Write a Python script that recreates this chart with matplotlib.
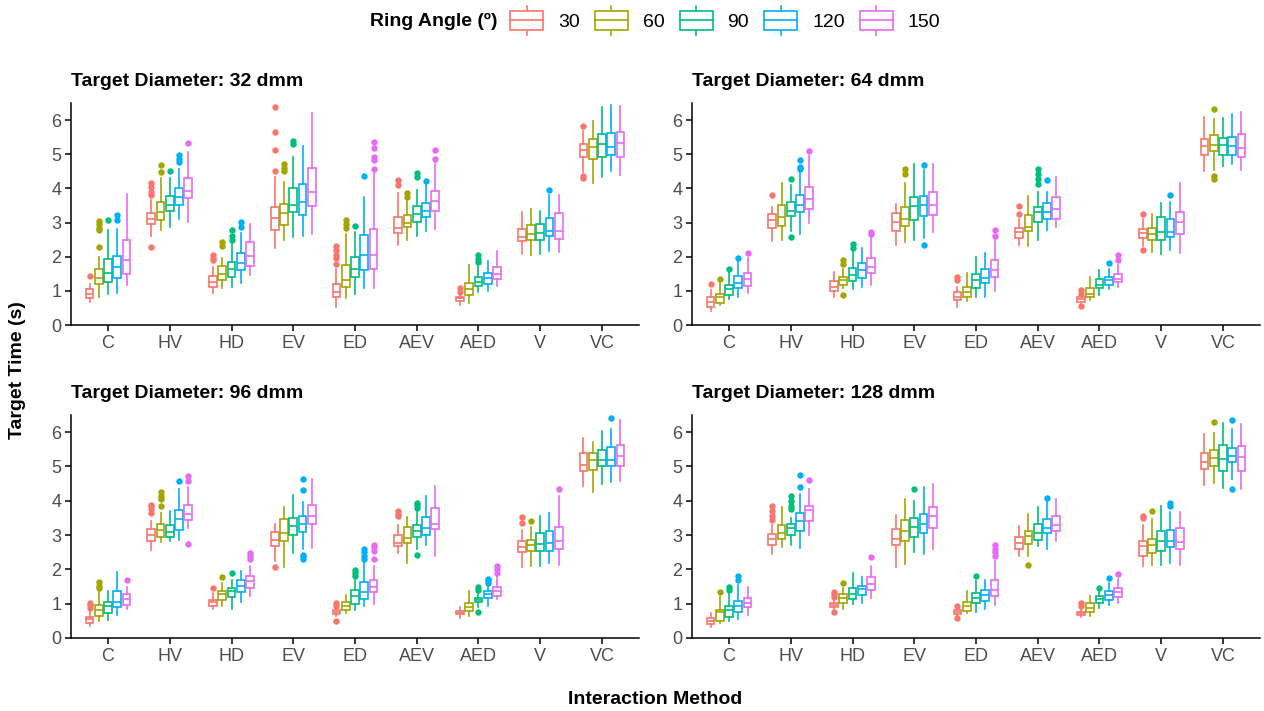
""" Target time by interaction method, ring angle and target diameter """
import matplotlib
matplotlib.use('Agg')
import matplotlib.pyplot as plt
from matplotlib.patches import Rectangle
from matplotlib.lines import Line2D
from matplotlib.legend_handler import HandlerBase

plt.rcParams['font.family'] = ['Liberation Sans', 'DejaVu Sans']

methods = ['C', 'HV', 'HD', 'EV', 'ED', 'AEV', 'AED', 'V', 'VC']
angles = [30, 60, 90, 120, 150]
colors = ['#F8766D', '#A3A500', '#00BF7D', '#00B0F6', '#E76BF3']

# one row per method, one column per ring angle (30, 60, 90, 120, 150)
# ---- 32 dmm
d32_lo = [[0.66, 0.83, 0.92, 0.95, 1.18], [2.60, 2.77, 2.88, 3.11, 3.01],
          [0.95, 1.07, 1.12, 1.24, 1.46], [2.25, 2.50, 2.57, 2.60, 2.67],
          [0.53, 0.78, 0.92, 1.07, 1.07], [2.33, 2.50, 2.60, 2.75, 2.82],
          [0.60, 0.63, 0.97, 0.99, 1.15], [2.09, 2.06, 2.09, 2.18, 2.14],
          [4.47, 4.17, 4.32, 4.50, 4.39]]
d32_q1 = [[0.80, 1.21, 1.26, 1.38, 1.50], [2.96, 3.06, 3.33, 3.50, 3.71],
          [1.10, 1.33, 1.40, 1.62, 1.73], [2.77, 2.93, 3.30, 3.23, 3.47],
          [0.81, 1.12, 1.41, 1.60, 1.65], [2.69, 2.88, 3.01, 3.15, 3.33],
          [0.71, 0.87, 1.14, 1.21, 1.34], [2.45, 2.50, 2.50, 2.62, 2.52],
          [4.92, 4.87, 4.92, 4.97, 4.92]]
d32_med = [[0.90, 1.38, 1.53, 1.69, 1.89], [3.11, 3.30, 3.51, 3.74, 3.93],
           [1.26, 1.50, 1.63, 1.82, 2.02], [3.13, 3.28, 3.50, 3.59, 3.88],
           [0.97, 1.33, 1.65, 2.04, 2.04], [2.83, 2.98, 3.25, 3.33, 3.64],
           [0.78, 1.05, 1.26, 1.38, 1.50], [2.57, 2.67, 2.69, 2.75, 2.75],
           [5.13, 5.22, 5.29, 5.21, 5.34]]
d32_q3 = [[1.04, 1.63, 1.92, 2.03, 2.50], [3.27, 3.61, 3.79, 4.00, 4.29],
          [1.43, 1.72, 1.84, 2.11, 2.43], [3.45, 3.54, 4.00, 4.13, 4.61],
          [1.21, 1.75, 1.99, 2.64, 2.82], [3.16, 3.22, 3.47, 3.56, 3.91],
          [0.83, 1.24, 1.41, 1.52, 1.69], [2.82, 2.93, 2.96, 3.13, 3.27],
          [5.29, 5.44, 5.58, 5.63, 5.66]]
d32_hi = [[1.20, 2.00, 2.77, 2.82, 3.83], [3.65, 4.30, 4.30, 4.56, 5.07],
          [1.70, 1.95, 2.45, 2.70, 2.96], [4.32, 4.19, 4.92, 5.24, 6.21],
          [1.65, 2.67, 2.72, 3.76, 4.45], [3.86, 3.64, 3.95, 4.10, 4.71],
          [0.89, 1.77, 1.73, 1.86, 2.16], [3.30, 3.40, 3.35, 3.81, 3.82],
          [5.68, 5.97, 6.38, 6.43, 6.41]]
d32_out = {
    'C-30': [1.43], 'C-60': [2.28, 2.77, 2.85, 2.95, 3.05], 'C-90': [3.08],
    'C-120': [3.06, 3.22],
    'HV-30': [2.28, 3.8, 3.9, 4.05, 4.15], 'HV-60': [4.47, 4.68],
    'HV-90': [4.51], 'HV-120': [4.76, 4.85, 4.97], 'HV-150': [5.34],
    'HD-30': [1.89, 1.95, 2.04], 'HD-60': [2.30, 2.43],
    'HD-90': [2.5, 2.62, 2.77], 'HD-120': [2.86, 3.03],
    'EV-30': [4.5, 5.13, 5.65, 6.39], 'EV-60': [4.51, 4.6, 4.7],
    'EV-90': [5.29, 5.39],
    'ED-30': [1.8, 1.95, 2.05, 2.2, 2.3], 'ED-60': [2.85, 2.95, 3.06],
    'ED-90': [2.91], 'ED-120': [4.37], 'ED-150': [4.58, 4.83, 4.93, 5.17, 5.36],
    'AEV-30': [4.1, 4.25], 'AEV-60': [3.76, 3.86], 'AEV-90': [4.32, 4.44],
    'AEV-120': [4.22], 'AEV-150': [4.85, 5.12],
    'AED-30': [0.97, 1.09], 'AED-90': [1.85, 1.94, 2.06],
    'V-120': [3.96],
    'VC-30': [4.3, 4.37, 5.84],
}

# ---- 64 dmm
d64_lo = [[0.41, 0.58, 0.76, 0.81, 0.95], [2.46, 2.50, 2.75, 2.67, 2.98],
          [0.83, 1.07, 1.05, 1.12, 1.18], [2.35, 2.43, 2.50, 2.54, 2.72],
          [0.53, 0.70, 0.83, 0.83, 1.00], [2.35, 2.30, 2.48, 2.79, 2.88],
          [0.63, 0.73, 0.89, 1.05, 1.12], [2.30, 2.14, 2.09, 2.20, 2.12],
          [4.51, 4.54, 4.66, 4.71, 4.53]]
d64_q1 = [[0.53, 0.63, 0.87, 1.09, 1.15], [2.84, 2.91, 3.18, 3.30, 3.40],
          [0.99, 1.18, 1.29, 1.39, 1.52], [2.74, 2.89, 3.06, 3.20, 3.23],
          [0.73, 0.83, 1.09, 1.23, 1.41], [2.55, 2.75, 3.03, 3.11, 3.11],
          [0.68, 0.81, 1.07, 1.17, 1.26], [2.55, 2.50, 2.50, 2.57, 2.65],
          [4.99, 5.10, 4.97, 4.99, 4.92]]
d64_med = [[0.68, 0.83, 1.05, 1.23, 1.36], [3.06, 3.17, 3.35, 3.50, 3.69],
           [1.12, 1.33, 1.46, 1.62, 1.70], [3.01, 3.09, 3.47, 3.50, 3.51],
           [0.83, 0.97, 1.31, 1.38, 1.60], [2.72, 2.88, 3.30, 3.32, 3.40],
           [0.76, 0.90, 1.18, 1.31, 1.36], [2.69, 2.67, 2.72, 2.72, 3.01],
           [5.24, 5.27, 5.27, 5.24, 5.19]]
d64_q3 = [[0.81, 0.92, 1.17, 1.43, 1.52], [3.24, 3.50, 3.61, 3.81, 4.05],
          [1.28, 1.41, 1.67, 1.82, 1.96], [3.28, 3.45, 3.76, 3.79, 3.88],
          [0.97, 1.12, 1.48, 1.65, 1.91], [2.83, 3.22, 3.45, 3.56, 3.76],
          [0.81, 1.07, 1.34, 1.41, 1.50], [2.82, 2.83, 3.16, 3.09, 3.30],
          [5.46, 5.55, 5.47, 5.51, 5.58]]
d64_hi = [[1.02, 1.26, 1.55, 1.87, 1.97], [3.45, 4.16, 4.10, 4.49, 4.95],
          [1.55, 1.65, 2.20, 2.25, 2.55], [3.54, 4.17, 4.71, 4.54, 4.71],
          [1.12, 1.52, 1.99, 2.12, 2.55], [3.10, 3.79, 3.88, 3.90, 4.34],
          [0.87, 1.41, 1.60, 1.65, 1.77], [3.10, 3.25, 3.57, 3.60, 4.17],
          [6.10, 6.04, 6.07, 6.19, 6.24]]
d64_out = {
    'C-30': [1.19], 'C-60': [1.36], 'C-90': [1.63], 'C-120': [1.97],
    'C-150': [2.11],
    'HV-30': [3.82], 'HV-90': [2.57, 4.27], 'HV-120': [4.56, 4.64, 4.83],
    'HV-150': [5.10],
    'HD-60': [0.87, 1.78, 1.91], 'HD-90': [2.25, 2.38], 'HD-150': [2.67, 2.72],
    'EV-60': [4.42, 4.56], 'EV-120': [2.33, 4.69],
    'ED-30': [1.31, 1.41], 'ED-150': [2.62, 2.77],
    'AEV-30': [3.25, 3.47], 'AEV-90': [4.13, 4.27, 4.42, 4.56],
    'AEV-120': [4.25],
    'AED-30': [0.55, 0.92, 1.02], 'AED-120': [1.82], 'AED-150': [1.89, 2.04],
    'V-30': [2.20, 3.25], 'V-120': [3.82],
    'VC-60': [4.27, 4.35, 6.31],
}

# ---- 96 dmm
d96_lo = [[0.36, 0.50, 0.53, 0.67, 0.84], [2.56, 2.79, 2.84, 2.87, 3.21],
          [0.84, 0.94, 0.85, 1.06, 1.23], [2.25, 2.07, 2.48, 2.60, 2.62],
          [0.65, 0.72, 0.82, 0.92, 0.99], [2.48, 2.19, 2.60, 2.70, 2.38],
          [0.58, 0.65, 0.90, 0.94, 1.13], [2.07, 2.11, 2.09, 2.19, 2.13],
          [4.43, 4.25, 4.48, 4.55, 4.58]]
d96_q1 = [[0.45, 0.64, 0.74, 0.89, 0.97], [2.82, 2.94, 2.94, 3.16, 3.45],
          [0.94, 1.11, 1.19, 1.33, 1.47], [2.69, 2.82, 3.01, 3.09, 3.31],
          [0.70, 0.82, 0.99, 1.13, 1.33], [2.67, 2.77, 2.95, 3.01, 3.18],
          [0.69, 0.79, 1.04, 1.16, 1.23], [2.50, 2.55, 2.53, 2.53, 2.58],
          [4.87, 4.89, 5.00, 5.00, 5.00]]
d96_med = [[0.55, 0.82, 0.92, 1.06, 1.13], [2.99, 3.14, 3.08, 3.47, 3.62],
           [1.04, 1.28, 1.36, 1.52, 1.65], [2.87, 3.06, 3.26, 3.31, 3.55],
           [0.77, 0.92, 1.21, 1.33, 1.50], [2.77, 2.92, 3.11, 3.21, 3.33],
           [0.74, 0.89, 1.11, 1.28, 1.36], [2.65, 2.70, 2.74, 2.77, 2.84],
           [5.03, 5.19, 5.19, 5.19, 5.31]]
d96_q3 = [[0.62, 0.95, 1.04, 1.36, 1.28], [3.18, 3.33, 3.28, 3.73, 3.89],
          [1.11, 1.36, 1.45, 1.68, 1.81], [3.08, 3.47, 3.50, 3.57, 3.87],
          [0.82, 1.04, 1.39, 1.62, 1.68], [3.01, 3.23, 3.29, 3.52, 3.78],
          [0.79, 1.03, 1.18, 1.36, 1.50], [2.84, 2.87, 3.06, 3.11, 3.23],
          [5.40, 5.40, 5.47, 5.57, 5.62]]
d96_hi = [[0.75, 1.35, 1.36, 1.92, 1.50], [3.40, 3.65, 3.70, 4.33, 4.41],
          [1.30, 1.60, 1.70, 1.96, 2.10], [3.33, 3.82, 4.16, 3.97, 4.64],
          [0.90, 1.26, 1.70, 2.20, 2.10], [3.30, 3.53, 3.75, 4.14, 4.43],
          [0.89, 1.36, 1.30, 1.50, 1.80], [3.15, 3.25, 3.55, 3.63, 4.15],
          [5.82, 5.70, 6.04, 6.10, 6.35]]
d96_out = {
    'C-30': [0.87, 0.95, 1.01], 'C-60': [1.45, 1.52, 1.62], 'C-150': [1.68],
    'HV-30': [3.65, 3.75, 3.85, 3.89], 'HV-60': [3.85, 4.05, 4.15, 4.25],
    'HV-120': [4.58], 'HV-150': [2.74, 4.58, 4.72],
    'HD-30': [1.45], 'HD-60': [1.77], 'HD-90': [1.89],
    'HD-150': [2.30, 2.40, 2.48],
    'EV-30': [2.07], 'EV-120': [2.30, 2.38, 2.43, 4.30, 4.62],
    'ED-30': [0.51, 0.94, 1.03], 'ED-90': [1.80, 1.89, 1.99],
    'ED-120': [2.30, 2.40, 2.50, 2.60], 'ED-150': [2.30, 2.55, 2.65, 2.72],
    'AEV-30': [3.55, 3.62, 3.70], 'AEV-90': [2.43, 3.80, 3.87, 3.94],
    'AED-90': [0.75, 1.40, 1.50], 'AED-120': [1.60, 1.68, 1.73],
    'AED-150': [1.90, 2.00, 2.09],
    'V-30': [3.34, 3.52], 'V-60': [3.42], 'V-150': [4.33],
    'VC-120': [6.41],
}

# ---- 128 dmm
d128_lo = [[0.33, 0.43, 0.51, 0.55, 0.67], [2.46, 2.65, 2.72, 2.62, 3.01],
           [0.85, 0.84, 0.99, 1.01, 1.16], [2.06, 2.17, 2.51, 2.45, 2.60],
           [0.65, 0.72, 0.75, 0.84, 0.97], [2.38, 2.38, 2.67, 2.60, 2.84],
           [0.62, 0.64, 0.87, 0.97, 1.03], [2.09, 2.12, 2.12, 2.20, 2.12],
           [4.45, 4.53, 4.38, 4.64, 4.35]]
d128_q1 = [[0.40, 0.50, 0.62, 0.75, 0.89], [2.72, 2.89, 3.01, 3.11, 3.40],
           [0.90, 1.03, 1.14, 1.26, 1.40], [2.72, 2.84, 2.94, 3.06, 3.21],
           [0.69, 0.79, 1.01, 1.09, 1.21], [2.58, 2.74, 2.87, 3.06, 3.11],
           [0.67, 0.77, 1.03, 1.11, 1.19], [2.38, 2.48, 2.55, 2.65, 2.58],
           [4.92, 5.01, 4.87, 5.14, 4.87]]
d128_med = [[0.50, 0.77, 0.82, 0.94, 1.03], [2.89, 3.06, 3.21, 3.42, 3.72],
            [0.95, 1.18, 1.28, 1.42, 1.58], [2.90, 3.13, 3.24, 3.31, 3.55],
            [0.77, 0.92, 1.16, 1.24, 1.40], [2.77, 2.97, 3.06, 3.21, 3.28],
            [0.72, 0.87, 1.13, 1.26, 1.33], [2.67, 2.70, 2.82, 2.84, 2.80],
            [5.14, 5.24, 5.21, 5.31, 5.29]]
d128_q3 = [[0.58, 0.82, 0.94, 1.09, 1.16], [3.03, 3.28, 3.31, 3.65, 3.86],
           [1.01, 1.28, 1.47, 1.53, 1.78], [3.18, 3.45, 3.50, 3.62, 3.82],
           [0.82, 1.04, 1.31, 1.39, 1.70], [2.95, 3.11, 3.33, 3.47, 3.55],
           [0.77, 1.01, 1.21, 1.36, 1.47], [2.82, 2.90, 3.11, 3.14, 3.21],
           [5.40, 5.48, 5.62, 5.55, 5.60]]
d128_hi = [[0.74, 1.20, 1.30, 1.55, 1.50], [3.30, 3.81, 3.50, 4.20, 4.35],
           [1.10, 1.45, 1.89, 1.78, 2.10], [3.58, 4.04, 4.00, 4.40, 4.50],
           [0.87, 1.36, 1.65, 1.68, 2.25], [3.26, 3.60, 3.82, 3.95, 4.04],
           [0.87, 1.21, 1.35, 1.60, 1.72], [3.30, 3.47, 3.86, 3.68, 3.67],
           [5.94, 5.97, 6.26, 6.10, 6.23]]
d128_out = {
    'C-60': [1.33], 'C-90': [1.40, 1.50], 'C-120': [1.70, 1.80],
    'HV-30': [3.45, 3.55, 3.70, 3.84], 'HV-90': [3.75, 3.85, 4.00, 4.14],
    'HV-120': [4.41, 4.74], 'HV-150': [4.60],
    'HD-30': [0.77, 1.20, 1.27, 1.33], 'HD-60': [1.60], 'HD-150': [2.35],
    'EV-90': [4.33],
    'ED-30': [0.58, 0.92], 'ED-90': [1.82], 'ED-150': [2.40, 2.50, 2.60, 2.72],
    'AEV-60': [2.14], 'AEV-120': [4.09],
    'AED-30': [0.92, 1.01], 'AED-90': [1.45], 'AED-120': [1.75],
    'AED-150': [1.86],
    'V-30': [3.50, 3.55], 'V-60': [3.70], 'V-120': [3.84, 3.94],
    'VC-60': [6.30], 'VC-120': [4.33, 6.35],
}

LW = 1.2


class BoxHandler(HandlerBase):
    # draws the little boxplot glyph used in the legend
    def create_artists(self, legend, orig_handle, xdescent, ydescent,
                       width, height, fontsize, trans):
        c = orig_handle.get_edgecolor()
        x0, y0 = -xdescent, -ydescent
        xm = x0 + width / 2
        box = Rectangle((x0, y0), width, height, facecolor='white',
                        edgecolor=c, lw=LW, transform=trans)
        mid = Line2D([x0, x0 + width], [y0 + height / 2] * 2, color=c,
                     lw=LW, transform=trans)
        top = Line2D([xm, xm], [y0 + height, y0 + height * 1.3], color=c,
                     lw=LW, transform=trans)
        bot = Line2D([xm, xm], [y0 - height * 0.3, y0], color=c,
                     lw=LW, transform=trans)
        return [top, bot, box, mid]


def draw_panel(ax, lo, q1, med, q3, hi, out, title):
    for k, (angle, c) in enumerate(zip(angles, colors)):
        stats = []
        for i, m in enumerate(methods):
            stats.append(dict(whislo=lo[i][k], q1=q1[i][k], med=med[i][k],
                              q3=q3[i][k], whishi=hi[i][k],
                              fliers=out.get('%s-%d' % (m, angle), [])))
        pos = [i + 1 + (k - 2) * 0.15 for i in range(len(methods))]
        ax.bxp(stats, positions=pos, widths=0.125, showcaps=False,
               patch_artist=True, manage_ticks=False,
               boxprops=dict(facecolor='white', edgecolor=c, linewidth=LW),
               medianprops=dict(color=c, linewidth=LW),
               whiskerprops=dict(color=c, linewidth=LW),
               flierprops=dict(marker='o', markerfacecolor=c,
                               markeredgecolor=c, markersize=3.6,
                               linestyle='none'))

    ax.set_xlim(0.4, 9.6)
    ax.set_ylim(0, 6.5)
    ax.set_xticks(range(1, len(methods) + 1))
    ax.set_xticklabels(methods)
    ax.set_yticks(range(0, 7))
    for s in ['top', 'right']:
        ax.spines[s].set_visible(False)
    for s in ['left', 'bottom']:
        ax.spines[s].set_linewidth(1.1)
    ax.tick_params(length=4, width=1.1, color='black', labelcolor='#4D4D4D',
                   labelsize=13, pad=3)
    ax.set_title(title, loc='left', fontweight='bold', fontsize=14, pad=12)


fig = plt.figure(figsize=(12.64, 7.11), dpi=100)
W, H = 1264.0, 711.0
ax1 = fig.add_axes([71 / W, 1 - 325 / H, 568 / W, 222 / H])
ax2 = fig.add_axes([692 / W, 1 - 325 / H, 568 / W, 222 / H])
ax3 = fig.add_axes([71 / W, 1 - 638 / H, 568 / W, 223 / H])
ax4 = fig.add_axes([692 / W, 1 - 638 / H, 568 / W, 223 / H])

draw_panel(ax1, d32_lo, d32_q1, d32_med, d32_q3, d32_hi, d32_out,
           'Target Diameter: 32 dmm')
draw_panel(ax2, d64_lo, d64_q1, d64_med, d64_q3, d64_hi, d64_out,
           'Target Diameter: 64 dmm')
draw_panel(ax3, d96_lo, d96_q1, d96_med, d96_q3, d96_hi, d96_out,
           'Target Diameter: 96 dmm')
draw_panel(ax4, d128_lo, d128_q1, d128_med, d128_q3, d128_hi, d128_out,
           'Target Diameter: 128 dmm')

fig.text(18 / W, 1 - 370 / H, 'Target Time (s)', rotation=90, ha='center',
         va='center', fontweight='bold', fontsize=14)
fig.text(655 / W, 1 - 699 / H, 'Interaction Method', ha='center',
         va='center', fontweight='bold', fontsize=14)

# legend on top
fig.text(497 / W, 1 - 21 / H, 'Ring Angle (º)', ha='right', va='center',
         fontweight='bold', fontsize=14)
handles = [Rectangle((0, 0), 1, 1, facecolor='white', edgecolor=c)
           for c in colors]
fig.legend(handles, [str(a) for a in angles], loc='center left',
           bbox_to_anchor=(510 / W, 1 - 21 / H), ncol=5, frameon=False,
           handler_map={Rectangle: BoxHandler()}, fontsize=14,
           handlelength=1.7, handleheight=1.08, handletextpad=0.77,
           columnspacing=0.77, borderpad=0, borderaxespad=0)

fig.savefig('out.png', dpi=100)
